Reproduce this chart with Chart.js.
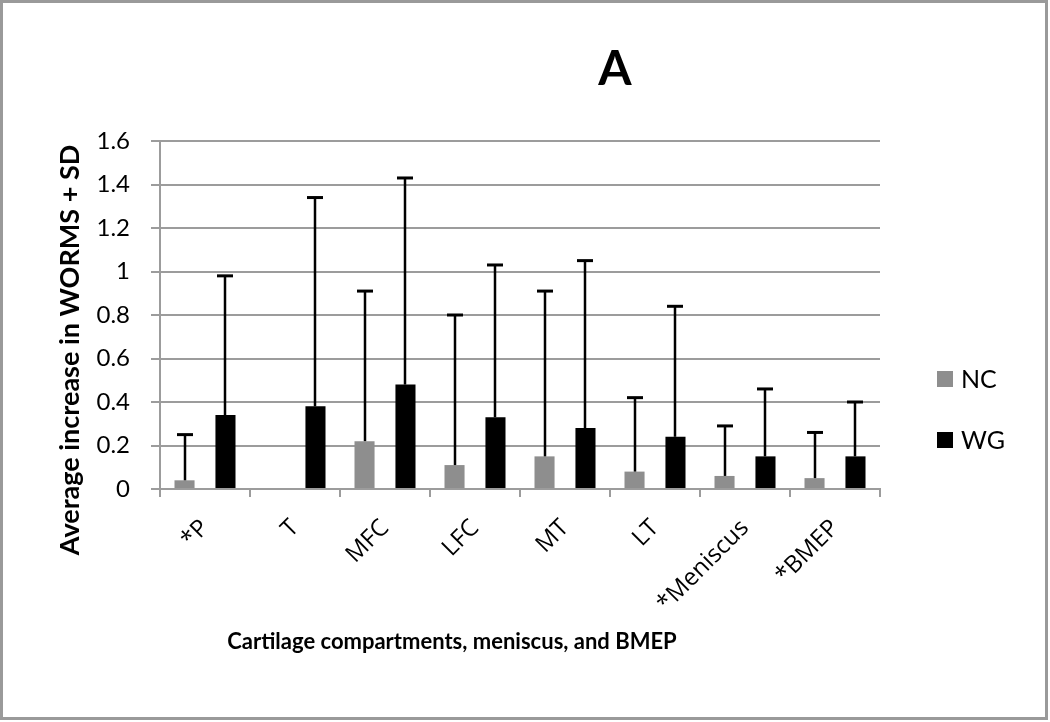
<!DOCTYPE html>
<html>
<head>
<meta charset="utf-8">
<script src="https://cdn.jsdelivr.net/npm/chart.js@4.4.1/dist/chart.umd.min.js"></script>
<style>
  html, body { margin: 0; padding: 0; background: #ffffff; }
  #wrap { position: absolute; left: 0; top: 0; width: 1050px; height: 722px; }
</style>
</head>
<body>
<div id="wrap"><canvas id="c"></canvas></div>
<script>
// ---- data ----
const categories = ['*P', 'T', 'MFC', 'LFC', 'MT', 'LT', '*Meniscus', '*BMEP'];
const seriesNames = ['NC', 'WG'];
const ncMean = [0.04, 0.00, 0.22, 0.11, 0.15, 0.08, 0.06, 0.05];
const ncSD   = [0.21, 0.00, 0.69, 0.69, 0.76, 0.34, 0.23, 0.21];
const wgMean = [0.34, 0.38, 0.48, 0.33, 0.28, 0.24, 0.15, 0.15];
const wgSD   = [0.64, 0.96, 0.95, 0.70, 0.77, 0.60, 0.31, 0.25];
const yTickLabels = ['0', '0.2', '0.4', '0.6', '0.8', '1', '1.2', '1.4', '1.6'];
const chartTitle = 'A';
const yTitle = 'Average increase in WORMS + SD';
const xTitle = 'Cartilage compartments, meniscus, and BMEP';

const GRID = '#9c9c9c';
const FONT = "Lato, 'Open Sans', 'Liberation Sans', sans-serif";
const XFONT = "'Open Sans', Lato, 'Liberation Sans', sans-serif";
const colors = ['#8e8e8e', '#000000'];
const sdArrays = [ncSD, wgSD];

const decorPlugin = {
  id: 'decor',
  beforeDraw(chart) {
    const ctx = chart.ctx;
    ctx.save();
    ctx.fillStyle = '#ffffff';
    ctx.fillRect(0, 0, chart.width, chart.height);
    ctx.restore();
  },
  afterDatasetsDraw(chart) {
    const ctx = chart.ctx;
    const yScale = chart.scales.y;
    ctx.save();
    ctx.strokeStyle = '#000000';
    chart.data.datasets.forEach((ds, di) => {
      const meta = chart.getDatasetMeta(di);
      const sd = sdArrays[di];
      meta.data.forEach((bar, i) => {
        if (!sd[i]) return;
        const x = Math.round(bar.x);
        const yTop = yScale.getPixelForValue(ds.data[i] + sd[i]);
        const yBase = yScale.getPixelForValue(ds.data[i]);
        ctx.lineWidth = 2.5;
        ctx.beginPath();
        ctx.moveTo(x, yBase);
        ctx.lineTo(x, yTop);
        ctx.stroke();
        ctx.lineWidth = 3;
        ctx.beginPath();
        ctx.moveTo(x - 8, yTop);
        ctx.lineTo(x + 8, yTop);
        ctx.stroke();
      });
    });
    ctx.restore();
  },
  afterDraw(chart) {
    const ctx = chart.ctx;
    ctx.save();
    // outer frame
    ctx.strokeStyle = '#9a9a9a';
    ctx.lineWidth = 3;
    ctx.strokeRect(1.5, 1.5, 1045, 717);
    ctx.fillStyle = '#000000';
    // main title
    ctx.font = "bold 48px " + FONT;
    ctx.textAlign = 'center';
    ctx.textBaseline = 'middle';
    ctx.fillText(chartTitle, 615, 70);
    // y axis title
    ctx.font = "bold 27px " + FONT;
    ctx.save();
    ctx.translate(70, 350);
    ctx.rotate(-Math.PI / 2);
    ctx.fillText(yTitle, 0, 0);
    ctx.restore();
    // x axis title
    ctx.font = "bold 22px " + FONT;
    ctx.fillText(xTitle, 452, 642);
    // legend
    ctx.font = "25px " + FONT;
    ctx.textAlign = 'left';
    const legendY = [379, 440];
    chart.data.datasets.forEach((ds, di) => {
      ctx.fillStyle = ds.backgroundColor;
      ctx.fillRect(937, legendY[di] - 8, 16, 16);
      ctx.fillStyle = '#000000';
      ctx.fillText(ds.label, 961, legendY[di] + 1);
    });
    ctx.restore();
  }
};

new Chart(document.getElementById('c'), {
  type: 'bar',
  data: {
    labels: categories,
    datasets: [
      { label: seriesNames[0], data: ncMean, backgroundColor: colors[0], borderWidth: 0,
        categoryPercentage: 0.91, barPercentage: 0.49 },
      { label: seriesNames[1], data: wgMean, backgroundColor: colors[1], borderWidth: 0,
        categoryPercentage: 0.91, barPercentage: 0.49 }
    ]
  },
  options: {
    responsive: true,
    maintainAspectRatio: false,
    animation: false,
    events: [],
    layout: { padding: { top: 141, right: 170, left: 0, bottom: 0 } },
    plugins: {
      legend: { display: false },
      title: { display: false },
      tooltip: { enabled: false }
    },
    scales: {
      x: {
        grid: { display: true, drawOnChartArea: false, drawTicks: true, tickLength: 8,
                color: GRID, lineWidth: 2, offset: true },
        border: { display: true, color: GRID, width: 2 },
        ticks: { color: '#000', font: { family: XFONT, size: 24 }, minRotation: 45, maxRotation: 45,
                 padding: 17, autoSkip: false },
        afterFit(scale) { scale.height = 233; }
      },
      y: {
        min: 0, max: 1.6,
        ticks: { stepSize: 0.2, color: '#000', font: { family: FONT, size: 24 }, padding: 21,
                 callback: (v, i) => yTickLabels[i] },
        grid: { color: GRID, lineWidth: 2, tickLength: 9, drawTicks: true },
        border: { display: true, color: GRID, width: 2 },
        afterFit(scale) { scale.width = 160; }
      }
    }
  },
  plugins: [decorPlugin]
});
</script>
</body>
</html>
